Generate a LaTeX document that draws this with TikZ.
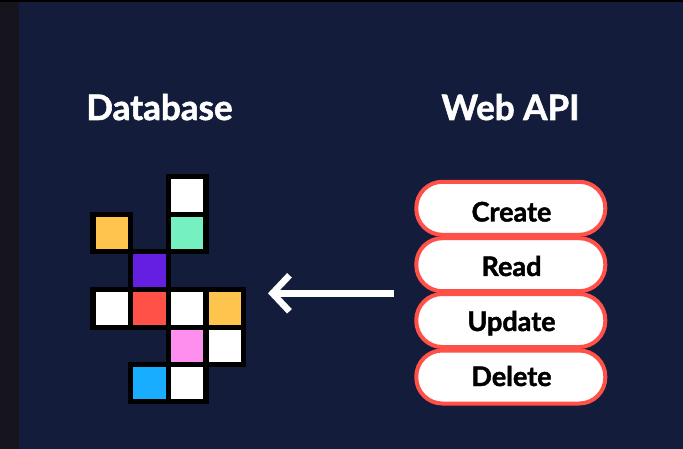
\documentclass[tikz,border=0pt]{standalone}
\usepackage{fontspec}
\setmainfont{Lato}[BoldFeatures={FakeBold=1.6}]
\usetikzlibrary{arrows.meta}
\definecolor{navybg}{HTML}{141C3C}
\definecolor{sidebg}{HTML}{16151D}
\definecolor{amber}{HTML}{FFC44D}
\definecolor{mint}{HTML}{75F0C1}
\definecolor{violet}{HTML}{651FE0}
\definecolor{coral}{HTML}{FF5148}
\definecolor{orchid}{HTML}{FF8FEE}
\definecolor{sky}{HTML}{18ADFF}

\begin{document}
\begin{tikzpicture}[
		x=1pt,y=-1pt,
		cell/.style={draw=black,line width=5.2pt,minimum size=37.7pt,inner sep=0pt,outer sep=0pt},
		pill/.style={draw=coral,line width=4pt,fill=white,rounded corners=26pt,minimum width=189pt,minimum height=53pt,inner sep=0pt,outer sep=0pt},
		title/.style={font=\bfseries\fontsize{35}{40}\selectfont,text=white,inner sep=0pt,anchor=base},
		lab/.style={font=\bfseries\fontsize{27}{30}\selectfont,text=black,inner sep=0pt,anchor=base},
		flow/.style={-{Straight Barb[length=17pt,width=36pt,line width=6.5pt]},line width=6.5pt,white}
		]
		% ===== Background =====
		\useasboundingbox (0,0) rectangle (683,449);
		\fill[navybg] (0,0) rectangle (683,449);
		\fill[sidebg] (0,0) rectangle (19,449);
		\fill[black] (0,0) rectangle (683,2.5);
		% ===== Titles =====
		\node[title] (dbtitle) at (159.5,120) {Database};
		\node[title] (apititle) at (510.5,120) {Web API};
		% ===== Grid of table cells =====
		\foreach \cx/\cy/\col/\nm in {
			187.2/195.3/white/a,
			111.8/233/amber/b,
			187.2/233/mint/c,
			149.5/270.7/violet/d,
			111.8/308.3/white/e,
			149.5/308.3/coral/f,
			187.2/308.3/white/g,
			224.8/308.3/amber/h,
			187.2/346/orchid/i,
			224.8/346/white/j,
			149.5/383/sky/k,
			187.2/383/white/l}
		{\node[cell,fill=\col] (cell-\nm) at (\cx,\cy) {};}
		% ===== CRUD operations =====
		\node[pill] (create) at (510.8,208.3) {};
		\node[pill] (read) at (510.8,264.7) {};
		\node[pill] (update) at (510.8,320.5) {};
		\node[pill] (delete) at (510.8,377) {};
		\node[lab] (createlab) at (511.5,221.5) {Create};
		\node[lab] (readlab) at (511.5,276) {Read};
		\node[lab] (updatelab) at (511.5,331) {Update};
		\node[lab] (deletelab) at (511.5,386) {Delete};
		% ===== Request arrow =====
		\coordinate (from) at (394,293.3);
		\coordinate (to) at (268,293.3);
		\draw[flow] (from) -- (to);
	\end{tikzpicture}
\end{document}
